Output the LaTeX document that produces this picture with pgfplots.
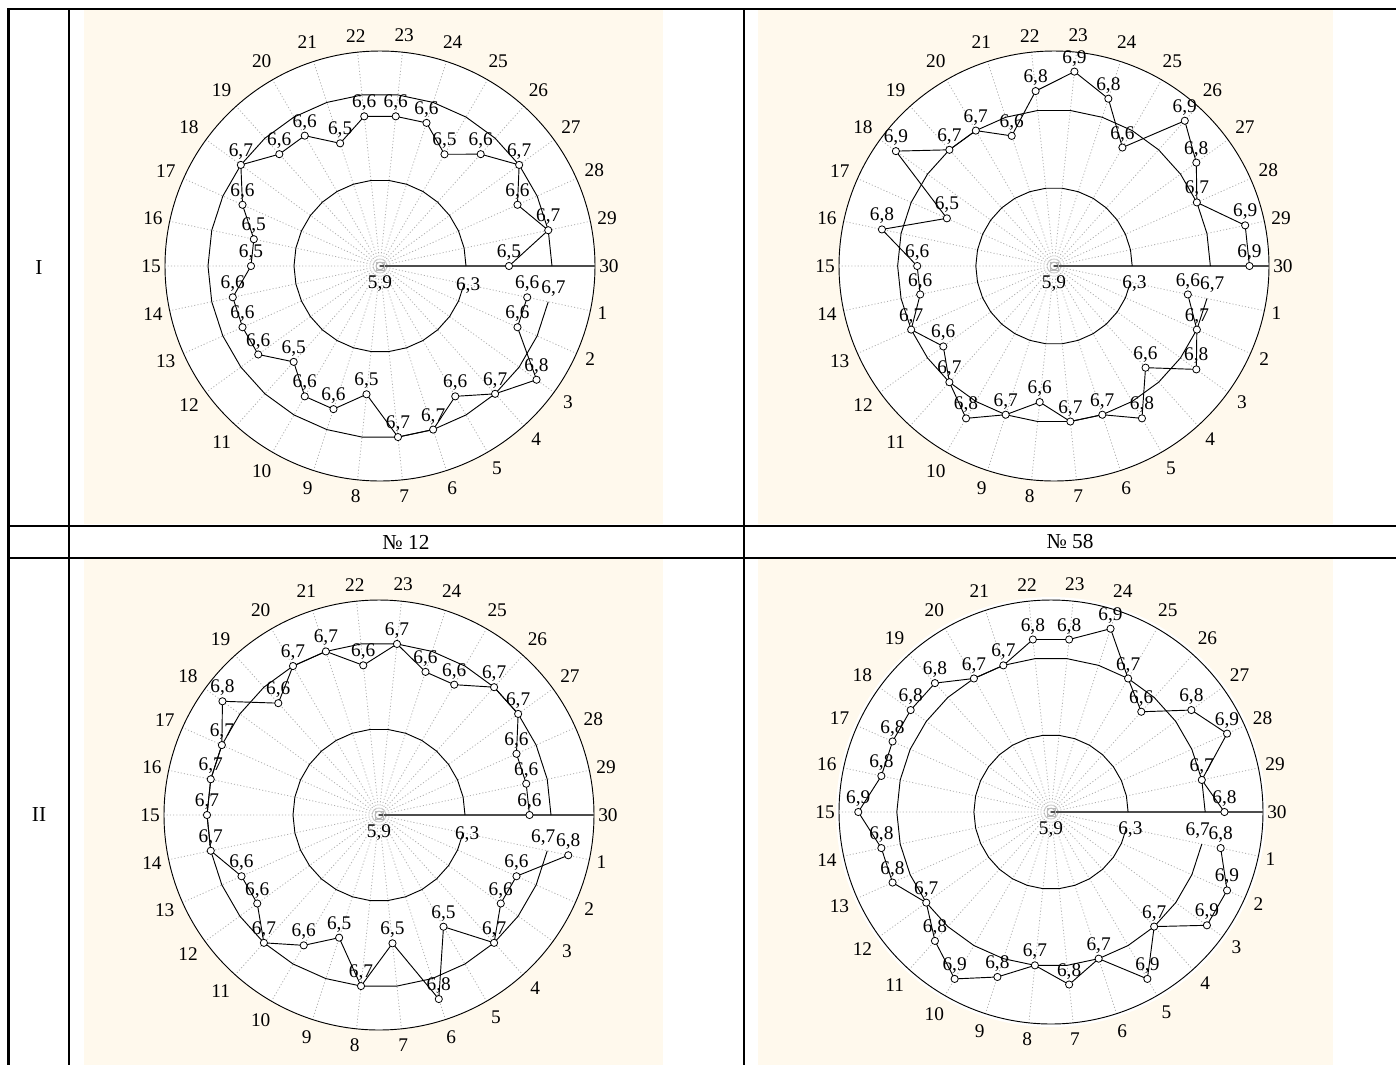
\documentclass[border=0pt]{standalone}
\usepackage{fontspec}
\setmainfont{Liberation Serif}
\usepackage{pgfplots}
\usepackage{pgfplotstable}
\pgfplotsset{compat=1.18}
\usepgfplotslibrary{polar}
\definecolor{cellbg}{RGB}{255,249,237}
\definecolor{spoke}{RGB}{175,175,175}
\newcommand\lblfont{\fontsize{14.5}{16}\selectfont}
\newcommand\cellfont{\fontsize{16}{18}\selectfont}

% a = angle of category (cat 30 at 0 deg, clockwise), v1..v4 = the four charts
\pgfplotstableread{
cat a   v1  v2  v3  v4  r63 r67
1  348 6.6 6.6 6.8 6.8 6.3 6.7
2  336 6.6 6.7 6.6 6.9 6.3 6.7
3  324 6.8 6.8 6.6 6.9 6.3 6.7
4  312 6.7 6.6 6.7 6.7 6.3 6.7
5  300 6.6 6.8 6.5 6.9 6.3 6.7
6  288 6.7 6.7 6.8 6.7 6.3 6.7
7  276 6.7 6.7 6.5 6.8 6.3 6.7
8  264 6.5 6.6 6.7 6.7 6.3 6.7
9  252 6.6 6.7 6.5 6.8 6.3 6.7
10 240 6.6 6.8 6.6 6.9 6.3 6.7
11 228 6.5 6.7 6.7 6.8 6.3 6.7
12 216 6.6 6.6 6.6 6.7 6.3 6.7
13 204 6.6 6.7 6.6 6.8 6.3 6.7
14 192 6.6 6.6 6.7 6.8 6.3 6.7
15 180 6.5 6.6 6.7 6.9 6.3 6.7
16 168 6.5 6.8 6.7 6.8 6.3 6.7
17 156 6.6 6.5 6.7 6.8 6.3 6.7
18 144 6.7 6.9 6.8 6.8 6.3 6.7
19 132 6.6 6.7 6.6 6.8 6.3 6.7
20 120 6.6 6.7 6.7 6.7 6.3 6.7
21 108 6.5 6.6 6.7 6.7 6.3 6.7
22 96  6.6 6.8 6.6 6.8 6.3 6.7
23 84  6.6 6.9 6.7 6.8 6.3 6.7
24 72  6.6 6.8 6.6 6.9 6.3 6.7
25 60  6.5 6.6 6.6 6.7 6.3 6.7
26 48  6.6 6.9 6.7 6.6 6.3 6.7
27 36  6.7 6.8 6.7 6.8 6.3 6.7
28 24  6.6 6.7 6.6 6.9 6.3 6.7
29 12  6.7 6.9 6.6 6.7 6.3 6.7
30 0   6.5 6.9 6.6 6.8 6.3 6.7
}\chartdata

\pgfplotsset{
  mypolar/.style={
    scale only axis, width=322.5pt, height=322.5pt, anchor=center,
    ymin=0, xmin=0, xmax=360,
    xtick={0,12,...,348},
    xticklabels={30,29,28,27,26,25,24,23,22,21,20,19,18,17,16,15,14,13,12,11,10,9,8,7,6,5,4,3,2,1},
    ytick=\empty,
    xmajorgrids,
    major grid style={spoke, dash pattern=on 0.8pt off 1.6pt, line width=0.6pt},
    axis line style={black, line width=0.7pt},
    major tick length=0pt,
    xticklabel style={font=\lblfont, inner xsep=3pt, inner ysep=7.5pt},
    clip=false,
  },
  dataline/.style={black, line width=0.7pt, mark=*, mark size=2.7pt,
    mark options={fill=white, draw=black, line width=0.6pt, solid},
    point meta=explicit,
    nodes near coords={\pgfmathprintnumber[fixed,fixed zerofill,precision=1,use comma,assume math mode=true]{\pgfplotspointmeta}},
    every node near coord/.append style={font=\lblfont, anchor=south, inner sep=0pt, yshift=3.8pt, text=black},
  },
  ringline/.style={black, line width=0.7pt, mark=none},
}

\begin{document}
\begin{tikzpicture}[x=0.75pt,y=-0.75pt]
\useasboundingbox (0,0) rectangle (1396,1064);
\clip (0,0) rectangle (1396,1064);
\fill[white] (0,0) rectangle (1396,1064);
\fill[cellbg] (84,10) rectangle (663,524);
\fill[cellbg] (758,10) rectangle (1333,524);
\fill[cellbg] (84,559) rectangle (663,1070);
\fill[cellbg] (758,559) rectangle (1333,1070);
\coordinate (c1) at (380,266);
\coordinate (c2) at (1054,266);
\coordinate (c3) at (379,815);
\coordinate (c4) at (1051,812);
\foreach \c in {c1,c2,c3,c4} {\fill[white] (\c) circle[radius=215];}

% chart 1
\begin{polaraxis}[mypolar, at={(c1)}, ymax=1.0]
\draw[gray!60!black, line width=1pt] (axis cs:0,0) -- (axis cs:0,1.0);
\addplot[ringline] table[x=a, y expr=\thisrow{r63}-5.9] {\chartdata};
\addplot[ringline] table[x=a, y expr=\thisrow{r67}-5.9] {\chartdata};
\addplot[dataline] table[x=a, y expr=\thisrow{v1}-5.9, meta=v1] {\chartdata};
\addplot[only marks, mark=square, mark size=3pt, gray!55, mark options={line width=0.5pt}] coordinates {(0,0)};
\node[font=\lblfont, anchor=north, inner sep=0pt, yshift=-7pt] at (axis cs:0,0) {5,9};
\node[font=\lblfont, inner sep=0pt, xshift=3pt, yshift=-1pt] at (axis cs:348,0.4) {6,3};
\node[font=\lblfont, anchor=south, inner sep=0pt, yshift=4pt, xshift=4pt] at (axis cs:348,0.8) {6,7};
\end{polaraxis}

% chart 2
\begin{polaraxis}[mypolar, at={(c2)}, ymax=1.1]
\draw[gray!60!black, line width=1pt] (axis cs:0,0) -- (axis cs:0,1.1);
\addplot[ringline] table[x=a, y expr=\thisrow{r63}-5.9] {\chartdata};
\addplot[ringline] table[x=a, y expr=\thisrow{r67}-5.9] {\chartdata};
\addplot[dataline] table[x=a, y expr=\thisrow{v2}-5.9, meta=v2] {\chartdata};
\addplot[only marks, mark=square, mark size=3pt, gray!55, mark options={line width=0.5pt}] coordinates {(0,0)};
\node[font=\lblfont, anchor=north, inner sep=0pt, yshift=-7pt] at (axis cs:0,0) {5,9};
\node[font=\lblfont, inner sep=0pt, xshift=3pt, yshift=-1pt] at (axis cs:348,0.4) {6,3};
\node[font=\lblfont, anchor=south, inner sep=0pt, yshift=4pt, xshift=4pt] at (axis cs:348,0.8) {6,7};
\end{polaraxis}

% chart 3
\begin{polaraxis}[mypolar, at={(c3)}, ymax=1.0]
\draw[gray!60!black, line width=1pt] (axis cs:0,0) -- (axis cs:0,1.0);
\addplot[ringline] table[x=a, y expr=\thisrow{r63}-5.9] {\chartdata};
\addplot[ringline] table[x=a, y expr=\thisrow{r67}-5.9] {\chartdata};
\addplot[dataline] table[x=a, y expr=\thisrow{v3}-5.9, meta=v3] {\chartdata};
\addplot[only marks, mark=square, mark size=3pt, gray!55, mark options={line width=0.5pt}] coordinates {(0,0)};
\node[font=\lblfont, anchor=north, inner sep=0pt, yshift=-7pt] at (axis cs:0,0) {5,9};
\node[font=\lblfont, inner sep=0pt, xshift=3pt, yshift=-1pt] at (axis cs:348,0.4) {6,3};
\node[font=\lblfont, anchor=south, inner sep=0pt, yshift=4pt, xshift=-3pt] at (axis cs:348,0.8) {6,7};
\end{polaraxis}

% chart 4
\begin{polaraxis}[mypolar, at={(c4)}, width=318pt, height=318pt, ymax=1.1]
\draw[gray!60!black, line width=1pt] (axis cs:0,0) -- (axis cs:0,1.1);
\addplot[ringline] table[x=a, y expr=\thisrow{r63}-5.9] {\chartdata};
\addplot[ringline] table[x=a, y expr=\thisrow{r67}-5.9] {\chartdata};
\addplot[dataline] table[x=a, y expr=\thisrow{v4}-5.9, meta=v4] {\chartdata};
\addplot[only marks, mark=square, mark size=3pt, gray!55, mark options={line width=0.5pt}] coordinates {(0,0)};
\node[font=\lblfont, anchor=north, inner sep=0pt, yshift=-7pt] at (axis cs:0,0) {5,9};
\node[font=\lblfont, inner sep=0pt, xshift=3pt, yshift=-1pt] at (axis cs:348,0.4) {6,3};
\node[font=\lblfont, anchor=south, inner sep=0pt, yshift=4pt, xshift=-3pt] at (axis cs:348,0.8) {6,7};
\end{polaraxis}

% table rules
\draw[line width=1.6pt] (8.5,1080) -- (8.5,9) -- (1410,9);
\draw[line width=1.6pt] (69,9) -- (69,1080);
\draw[line width=1.6pt] (744,9) -- (744,1080);
\draw[line width=1.6pt] (8.5,525.7) -- (1410,525.7);
\draw[line width=1.6pt] (8.5,558) -- (1410,558);
% cell text
\node[font=\cellfont] at (39,268) {I};
\node[font=\cellfont] at (39,815) {II};
\node[font=\cellfont] at (406,542) {№ 12};
\node[font=\cellfont] at (1070,542) {№ 58};
\end{tikzpicture}
\end{document}
